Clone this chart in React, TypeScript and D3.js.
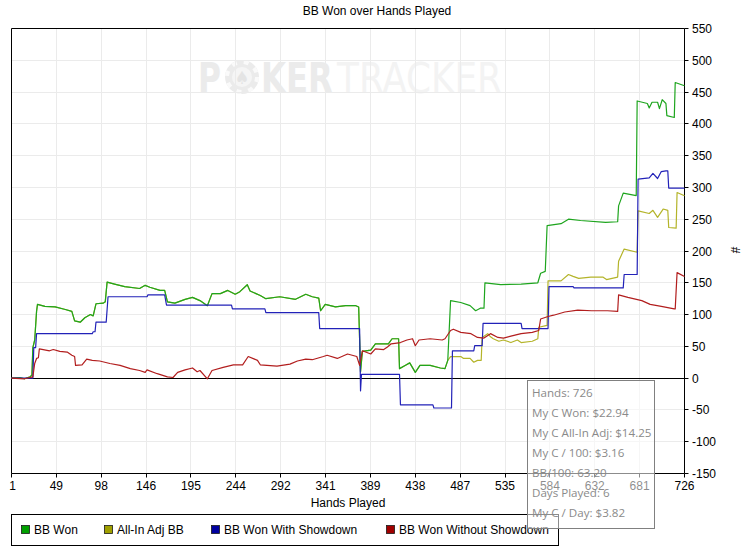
import * as d3 from 'd3'

// hands played axis labels (15 equal intervals)
const xTickLabels = ['1', '49', '98', '146', '195', '244', '292', '341', '389', '438', '487', '535', '584', '632', '681', '726']
const yTicks = [550, 500, 450, 400, 350, 300, 250, 200, 150, 100, 50, 0, -50, -100, -150]

// [hand, bb]
const bbWon: [number, number][] = [
  [1, 0], [10, 1], [15, -1], [21, 2], [23, 5], [24, 48], [26, 60], [28, 105], [29, 116], [37, 113],
  [48, 112], [59, 108], [66, 105], [69, 90], [75, 88], [80, 95], [86, 100], [89, 98], [92, 117],
  [100, 118], [102, 120], [104, 151], [112, 148], [123, 144], [139, 141], [145, 146], [150, 143],
  [161, 138], [166, 138], [169, 120], [177, 118], [188, 124], [196, 127], [204, 122], [212, 114],
  [217, 133], [226, 133], [234, 138], [242, 132], [247, 136], [255, 147], [258, 137], [269, 130],
  [275, 125], [290, 128], [307, 124], [318, 132], [325, 128], [332, 126], [334, 106], [339, 116],
  [350, 112], [361, 114], [372, 114], [375, 112], [377, 10], [379, 42], [388, 44], [393, 54],
  [407, 54], [411, 62], [418, 62], [419, 15], [425, 20], [430, 24], [436, 9], [441, 20], [452, 20],
  [463, 16], [468, 15], [471, 28], [474, 122], [485, 119], [495, 114], [501, 106], [506, 110],
  [510, 110], [511, 150], [528, 147], [550, 148], [568, 150], [571, 165], [576, 168], [578, 240],
  [593, 243], [601, 250], [614, 248], [641, 245], [654, 246], [655, 271], [660, 291], [674, 287],
  [675, 436], [686, 432], [688, 425], [691, 434], [697, 434], [699, 424], [702, 438], [706, 432],
  [707, 413], [715, 410], [716, 465], [726, 460],
]

const allInAdjTail: [number, number][] = [
  [474, 34], [485, 34], [488, 31], [495, 31], [499, 25], [503, 28], [507, 28], [508, 64], [514, 70],
  [517, 65], [520, 62], [526, 58], [531, 60], [539, 56], [546, 60], [550, 56], [562, 58], [568, 62],
  [569, 80], [578, 83], [579, 153], [593, 153], [601, 163], [606, 160], [612, 157], [625, 159],
  [638, 159], [642, 155], [654, 159], [655, 184], [661, 203], [675, 198], [676, 263], [688, 259],
  [692, 264], [697, 253], [703, 266], [708, 264], [709, 237], [717, 236], [718, 292], [726, 287],
]
// identical to BB Won until the all-in adjustments start
const allInAdj: [number, number][] = [...bbWon.filter(([h]) => h <= 471), ...allInAdjTail]

const bbWonShowdown: [number, number][] = [
  [1, 0], [24, 0], [25, 48], [27, 48], [28, 70], [88, 70], [89, 73], [91, 73], [92, 88], [103, 88],
  [105, 128], [147, 128], [148, 131], [166, 131], [168, 115], [238, 115], [239, 109], [274, 109],
  [275, 103], [332, 103], [333, 78], [376, 78], [377, -20], [378, 6], [419, 6], [420, -42],
  [455, -42], [456, -47], [475, -47], [476, 43], [499, 43], [500, 51], [508, 51], [509, 86],
  [550, 86], [551, 78], [579, 78], [580, 144], [606, 144], [607, 142], [660, 142], [661, 163],
  [675, 163], [676, 313], [688, 315], [692, 322], [697, 314], [701, 325], [706, 326], [708, 326],
  [709, 299], [726, 299],
]

const bbWonNoShowdown: [number, number][] = [
  [1, 0], [15, -1], [21, 1], [24, 2], [26, 23], [28, 31], [30, 32], [31, 46], [42, 43], [46, 45],
  [53, 42], [61, 41], [66, 36], [69, 34], [70, 20], [77, 21], [82, 30], [88, 28], [96, 27],
  [107, 23], [118, 20], [129, 15], [139, 12], [145, 9], [147, 13], [158, 7], [169, 2], [175, 1],
  [180, 9], [188, 13], [196, 16], [201, 10], [204, 12], [212, -1], [217, 12], [229, 17], [240, 21],
  [250, 21], [256, 34], [266, 28], [269, 21], [287, 19], [301, 22], [309, 27], [318, 30], [325, 29],
  [337, 34], [341, 36], [352, 31], [363, 38], [373, 34], [376, 20], [379, 43], [388, 38], [393, 46],
  [402, 45], [406, 49], [410, 54], [420, 56], [427, 60], [433, 62], [436, 51], [440, 60], [452, 62],
  [465, 60], [468, 62], [474, 75], [477, 77], [485, 72], [496, 70], [503, 64], [510, 63], [517, 70],
  [525, 64], [531, 63], [539, 66], [550, 70], [562, 72], [569, 75], [571, 93], [579, 97], [585, 99],
  [597, 104], [611, 107], [626, 106], [643, 106], [654, 105], [655, 131], [665, 127], [680, 122],
  [689, 116], [701, 113], [715, 109], [716, 109], [718, 166], [726, 160],
]

const seriesNames = ['BB Won', 'All-In Adj BB', 'BB Won With Showdown', 'BB Won Without Showdown']
const seriesData = [bbWon, allInAdj, bbWonShowdown, bbWonNoShowdown]
const lineColors = ['#1ea51e', '#b4b42a', '#2222b8', '#b21e1e']
const swatchColors = ['#00a000', '#a0a000', '#0000a0', '#a00000']
const drawOrder = [1, 0, 2, 3]

const statsLines = [
  'Hands: 726',
  'My C Won: $22.94',
  'My C All-In Adj: $14.25',
  'My C / 100: $3.16',
  'BB/100: 63.20',
  'Days Played: 6',
  'My C / Day: $3.82',
]

const W = 754
const H = 554
const plot = { left: 11.5, right: 684.5, top: 28.5, bottom: 473.5 }
const legendX = [21, 104, 211, 386]
const font = '"Liberation Sans", Arial, sans-serif'

export default function App() {
  const x = d3.scaleLinear().domain([1, 726]).range([plot.left, plot.right])
  const y = d3.scaleLinear().domain([-150, 550]).range([plot.bottom, plot.top])
  const xTickPos = xTickLabels.map((_, i) => 1 + (i * 725) / (xTickLabels.length - 1))
  const line = d3.line<[number, number]>().x(d => x(d[0])).y(d => y(d[1]))
  const crisp = (v: number) => Math.round(v - 0.5) + 0.5

  return (
    <svg width={W} height={H} style={{ position: 'absolute', left: 0, top: 0, background: '#fff' }} fontFamily={font}>
      <rect width={W} height={H} fill="#fff" />
      <text x={377} y={15} fontSize={12} textAnchor="middle" fill="#000">BB Won over Hands Played</text>

      {/* watermark */}
      <g fontFamily='"DejaVu Sans Condensed", "DejaVu Sans", sans-serif'>
        <text x={198} y={93} fontSize={43} fontWeight="bold" fill="#ebebeb" textLength={23} lengthAdjust="spacingAndGlyphs">P</text>
        <circle cx={242} cy={77} r={17} fill="#ebebeb" />
        <circle cx={242} cy={77} r={15} fill="none" stroke="#fafafa" strokeWidth={4} strokeDasharray="5 7" />
        <circle cx={242} cy={77} r={10} fill="#f5f5f5" />
        <text x={242} y={84} fontSize={18} textAnchor="middle" fill="#e4e4e4">♠</text>
        <text x={261} y={93} fontSize={43} fontWeight="bold" fill="#ebebeb" textLength={72} lengthAdjust="spacingAndGlyphs">KER</text>
        <text x={337} y={93} fontSize={43} fill="#f3f3f3" textLength={165} lengthAdjust="spacingAndGlyphs">TRACKER</text>
      </g>

      {/* grid */}
      <g stroke="#ebebeb" strokeWidth={1}>
        {xTickPos.slice(1, -1).map((t, i) => (
          <line key={'gx' + i} x1={crisp(x(t))} x2={crisp(x(t))} y1={plot.top} y2={plot.bottom} />
        ))}
        {yTicks.filter(t => t !== 0 && t !== 550 && t !== -150).map(t => (
          <line key={'gy' + t} x1={plot.left} x2={plot.right} y1={crisp(y(t))} y2={crisp(y(t))} />
        ))}
      </g>

      {/* frame */}
      <g stroke="#000" strokeWidth={1} fill="none">
        <path d={`M${plot.left},${plot.bottom}V${plot.top}H${plot.right}`} />
        <line x1={plot.left} x2={plot.right} y1={plot.bottom} y2={plot.bottom} />
        <line x1={plot.left} x2={plot.right} y1={crisp(y(0))} y2={crisp(y(0))} />
        <line x1={plot.right} x2={plot.right} y1={plot.top} y2={plot.bottom} />
      </g>

      {/* series */}
      <g fill="none" strokeWidth={1.2} strokeLinejoin="round">
        {drawOrder.map(i => (
          <path key={seriesNames[i]} d={line(seriesData[i]) || ''} stroke={lineColors[i]} />
        ))}
      </g>

      {/* right axis */}
      <g fontSize={12} fill="#000">
        {yTicks.map(t => (
          <g key={'yt' + t}>
            <line x1={plot.right} x2={plot.right + 4} y1={crisp(y(t))} y2={crisp(y(t))} stroke="#000" />
            <text x={692} y={y(t) + 4.5}>{t}</text>
          </g>
        ))}
        <text transform={`translate(731,250) rotate(90)`} textAnchor="middle" fontSize={12}>#</text>
      </g>

      {/* bottom axis */}
      <g fontSize={12} fill="#000">
        {xTickPos.map((t, i) => (
          <g key={'xt' + i}>
            <line x1={crisp(x(t))} x2={crisp(x(t))} y1={plot.bottom} y2={plot.bottom + 4} stroke="#000" />
            <text x={x(t) + (i === 0 ? 1 : 0)} y={490} textAnchor="middle">{xTickLabels[i]}</text>
          </g>
        ))}
        <text x={(plot.left + plot.right) / 2} y={507} textAnchor="middle">Hands Played</text>
      </g>

      {/* legend */}
      <rect x={11.5} y={514.5} width={547} height={31} fill="#fff" stroke="#000" />
      {seriesNames.map((name, i) => (
        <g key={'lg' + name} transform={`translate(${legendX[i]},0)`}>
          <rect x={0.5} y={525.5} width={8} height={8} fill={swatchColors[i]} stroke="#1a1a1a" strokeWidth={0.8} />
          <text x={13} y={534} fontSize={12} fill="#000">{name}</text>
        </g>
      ))}

      {/* stats box */}
      <rect x={527.5} y={380.5} width={127} height={148} fill="#fff" fillOpacity={0.55} stroke="#808080" />
      <g fontFamily='"Open Sans", "Noto Sans", sans-serif' fontSize={11.6} fill="#8a8a8a">
        {statsLines.map((s, i) => (
          <text key={s} x={532} y={396.5 + i * 20}>{s}</text>
        ))}
      </g>
    </svg>
  )
}
